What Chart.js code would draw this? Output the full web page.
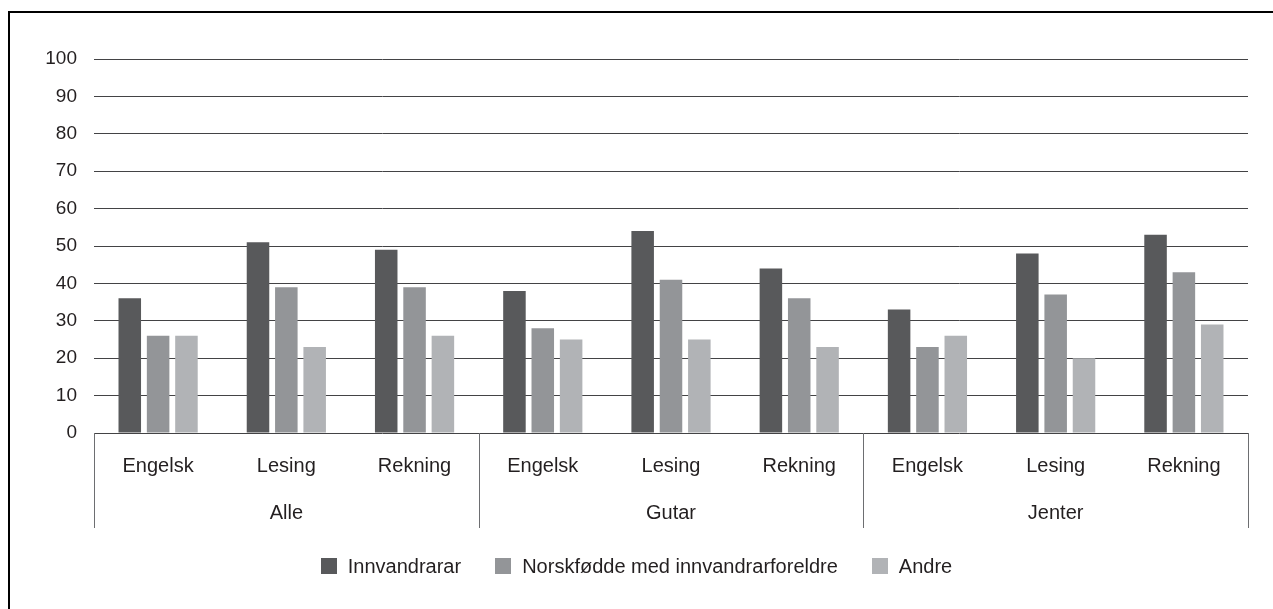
<!DOCTYPE html>
<html>
<head>
<meta charset="utf-8">
<script src="https://cdn.jsdelivr.net/npm/chart.js@4/dist/chart.umd.min.js"></script>
<style>
  html, body { margin: 0; padding: 0; background: #fff; overflow: hidden; }
  #frame { position: absolute; left: 8px; top: 11px; width: 1400px; height: 800px; border: 2px solid #000; }
  #wrap { position: absolute; left: 0; top: 0; width: 1273px; height: 609px; }
  #legend { position: absolute; left: 0; top: 558px; width: 1273px; display: flex; justify-content: center;
            font: 20px "Liberation Sans", Arial, sans-serif; color: #231f20; }
  #legend .item { display: flex; align-items: center; margin: 0 17px; }
  #legend .box { width: 16px; height: 16px; margin-right: 11px; }
  #legend span { line-height: 16px; }
</style>
</head>
<body>
<div id="frame"></div>
<div id="wrap"><canvas id="chart"></canvas></div>
<div id="legend"></div>
<script>
const groups = ['Alle', 'Gutar', 'Jenter'];
const fag = ['Engelsk', 'Lesing', 'Rekning'];
const yTicks = [0, 10, 20, 30, 40, 50, 60, 70, 80, 90, 100];

const seriesNames = ['Innvandrarar', 'Norskfødde med innvandrarforeldre', 'Andre'];
const innvandrarar = [36, 51, 49, 38, 54, 44, 33, 48, 53];
const norskfodde = [26, 39, 39, 28, 41, 36, 23, 37, 43];
const andre = [26, 23, 26, 25, 25, 23, 26, 20, 29];
const colors = ['#58595b', '#939598', '#b1b3b6'];

const labels = groups.flatMap(() => fag);
const textColor = '#231f20';
const family = '"Liberation Sans", Arial, sans-serif';
const font = { family: family, size: 20 };

// gruppeetikettar og skiljelinjer under x-aksen
const groupAxis = {
  id: 'groupAxis',
  afterDraw(chart) {
    const xs = chart.scales.x;
    const ctx = chart.ctx;
    const step = xs.getPixelForTick(1) - xs.getPixelForTick(0);
    const bottom = chart.chartArea.bottom;
    ctx.save();
    ctx.strokeStyle = '#6d6e71';
    ctx.lineWidth = 1;
    for (let g = 0; g <= groups.length; g++) {
      const x = Math.round(xs.getPixelForTick(0) - step / 2 + g * fag.length * step) + 0.5;
      ctx.beginPath();
      ctx.moveTo(x, bottom);
      ctx.lineTo(x, bottom + 95);
      ctx.stroke();
    }
    ctx.fillStyle = textColor;
    ctx.font = font.size + 'px ' + font.family;
    ctx.textAlign = 'center';
    ctx.textBaseline = 'middle';
    groups.forEach((g, i) => {
      const x = (xs.getPixelForTick(i * fag.length) + xs.getPixelForTick(i * fag.length + fag.length - 1)) / 2;
      ctx.fillText(g, x, bottom + 80);
    });
    ctx.restore();
  }
};

const chart = new Chart(document.getElementById('chart'), {
  type: 'bar',
  data: {
    labels: labels,
    datasets: [innvandrarar, norskfodde, andre].map((d, i) => ({
      label: seriesNames[i],
      data: d,
      backgroundColor: colors[i],
      categoryPercentage: 0.663,
      barPercentage: 0.795
    }))
  },
  options: {
    responsive: true,
    maintainAspectRatio: false,
    animation: false,
    layout: { padding: { top: 59, right: 25, bottom: 0, left: 0 } },
    plugins: { legend: { display: false }, tooltip: { enabled: false } },
    scales: {
      x: {
        grid: { display: false, drawTicks: false },
        border: { display: false },
        ticks: { color: textColor, font: font, padding: 21, maxRotation: 0, autoSkip: false },
        afterFit(scale) { scale.height = 176; }
      },
      y: {
        min: 0,
        max: 100,
        afterBuildTicks(scale) { scale.ticks = yTicks.map(v => ({ value: v })); },
        grid: { color: '#434345', lineWidth: 1, drawTicks: false },
        border: { display: false },
        ticks: { color: textColor, font: { family: family, size: 19 }, padding: 17 },
        afterFit(scale) { scale.width = 94; }
      }
    }
  },
  plugins: [groupAxis]
});

// forklaring
const legend = document.getElementById('legend');
chart.data.datasets.forEach(ds => {
  const item = document.createElement('div');
  item.className = 'item';
  const box = document.createElement('div');
  box.className = 'box';
  box.style.background = ds.backgroundColor;
  const txt = document.createElement('span');
  txt.textContent = ds.label;
  item.appendChild(box);
  item.appendChild(txt);
  legend.appendChild(item);
});
</script>
</body>
</html>
